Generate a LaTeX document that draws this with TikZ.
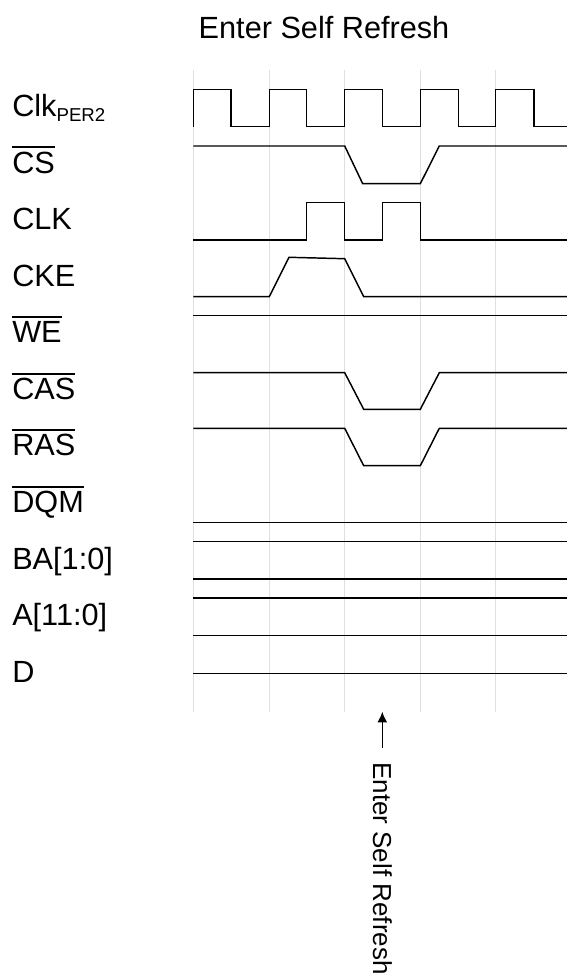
\documentclass[tikz,border=0pt]{standalone}
\usepackage{fontspec}
\setmainfont{Liberation Sans}
\usepackage{tikz}
\usetikzlibrary{arrows.meta}

\newcommand{\ovl}[1]{\leavevmode\vbox{\hrule height 1.4pt \kern 2.6pt \hbox{#1}}}

\tikzset{
  sig/.style={line width=1.1pt, line join=miter},
  gridline/.style={gray!25, line width=0.7pt},
  lbl/.style={anchor=base west, inner sep=0pt, font=\fontsize{23pt}{26pt}\selectfont},
}

\begin{document}
\begin{tikzpicture}[x=0.75pt, y=-0.75pt]
        \useasboundingbox (0,0) rectangle (567,974);

        % time grid
        \foreach \gx in {193.3,269.3,344.7,420.3,495.7}
          \draw[gridline] (\gx,70) -- (\gx,711.7);

        \node[anchor=base, inner sep=0pt, font=\fontsize{23pt}{26pt}\selectfont] (title) at (324,39) {Enter Self Refresh};

        % signal names
        \node[lbl] (clkper) at (12,116.7) {Clk\raisebox{-3.8pt}{\fontsize{14pt}{14pt}\selectfont PER2}};
        \node[lbl] (cs)  at (12,173.2) {\ovl{CS}};
        \node[lbl] (clk) at (12,229.8) {CLK};
        \node[lbl] (cke) at (12,286.3) {CKE};
        \node[lbl] (we)  at (12,342.8) {\ovl{WE}};
        \node[lbl] (cas) at (12,399.4) {\ovl{CAS}};
        \node[lbl] (ras) at (12,455.9) {\ovl{RAS}};
        \node[lbl] (dqm) at (12,512.4) {\ovl{DQM}};
        \node[lbl] (ba)  at (12,569.0) {BA[1:0]};
        \node[lbl] (addr) at (12,625.5) {A[11:0]};
        \node[lbl] (dat) at (12,682.0) {D};

        % waveforms
        \draw[sig] (193.3,126.7) -- (193.3,89.3) -| (231,126.7) -| (269.3,89.3) -| (306.7,126.7)
          -| (344.7,89.3) -| (382.3,126.7) -| (420.3,89.3) -| (458.3,126.7) -| (495.7,89.3)
          -| (534,126.7) -- (567,126.7);
        \draw[sig] (193.3,146) -- (344.7,146) -- (362.7,183.7) -- (420.3,183.7) -- (439.3,146) -- (567,146);
        \draw[sig] (193.3,240) -| (306.7,202.3) -| (344.7,240) -| (382.3,202.3) -| (420.3,240) -- (567,240);
        \draw[sig] (193.3,296.7) -- (269.3,296.7) -- (289,257.3) -- (344.7,258.7) -- (363.7,296.7) -- (567,296.7);
        \draw[sig] (193.3,315.3) -- (567,315.3);
        \draw[sig] (193.3,372.7) -- (344.7,372.7) -- (363.7,409.3) -- (420.3,409.3) -- (439.3,372.7) -- (567,372.7);
        \draw[sig] (193.3,428.3) -- (344.7,428.3) -- (363.7,465.7) -- (420.3,465.7) -- (439.3,428.3) -- (567,428.3);
        \foreach \ly in {522.7,541.3,579,598,635.7,673.3}
          \draw[sig] (193.3,\ly) -- (567,\ly);

        % marker
        \node[rotate=-90, anchor=base west, inner sep=0pt, font=\fontsize{19.5pt}{22pt}\selectfont] (esr) at (373,762) {Enter Self Refresh};
        \coordinate (esrtail) at (382.3,748);
        \coordinate (esrtip) at (382.3,711.7);
        \draw[line width=1.1pt, -{Latex[length=8pt,width=7.5pt]}] (esrtail) -- (esrtip);
    \end{tikzpicture}
\end{document}
